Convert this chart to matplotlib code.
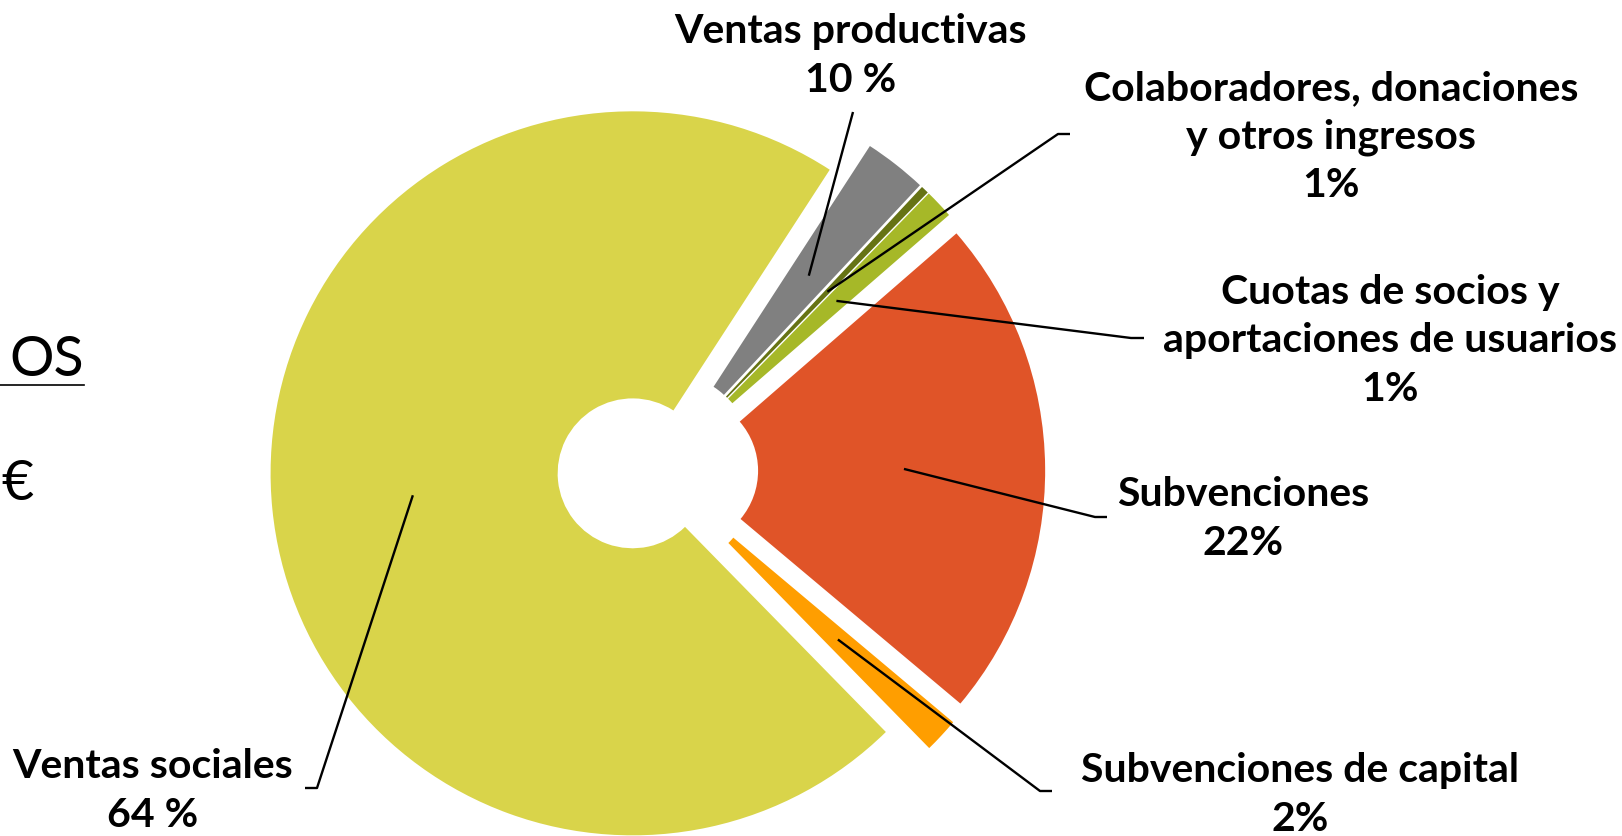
import numpy as np
import matplotlib
matplotlib.use('Agg')
import matplotlib.pyplot as plt
from matplotlib.lines import Line2D

plt.rcParams['font.family'] = ['Lato', 'DejaVu Sans']

# datos del grafico (tamano dibujado de cada porcion, y el porcentaje rotulado)
categories = ['Ventas sociales', 'Ventas productivas',
              'Colaboradores, donaciones\ny otros ingresos',
              'Cuotas de socios y\naportaciones de usuarios',
              'Subvenciones', 'Subvenciones de capital']
shares = [71.5, 2.8, 0.35, 1.3, 22.5, 1.55]
pct_labels = ['64 %', '10 %', '1%', '1%', '22%', '2%']

colors = ['#D9D44A', '#808080', '#667314', '#A6B828', '#E05428', '#FF9E00']
explode = [0.065, 0.075, 0.075, 0.075, 0.075, 0.075]

# posiciones en pixeles de la imagen (centro de la etiqueta, codo, fin de la linea)
label_px = [(153, 791), (851, 56), (1331, 137), (1390, 341), (1243, 519), (1300, 795)]
elbow_px = [(317, 789), (853, 113), (1058, 135), (1131, 339), (1095, 518), (1040, 792)]
end_px = [(305, 789), None, (1070, 135), (1144, 339), (1107, 518), (1052, 792)]

W, H = 1622, 837
CX, CY, RPX = 656, 472, 362


def px(x, y):
    return (x - CX) / RPX, (CY - y) / RPX


fig = plt.figure(figsize=(W / 100, H / 100), dpi=100)
ax = fig.add_axes([0, 0, 1, 1])
wedges, _ = ax.pie(shares, colors=colors, explode=explode, startangle=-45.6,
                   counterclock=False, radius=1,
                   wedgeprops=dict(width=0.793, linewidth=0))
ax.set_aspect('auto')
ax.set_xlim(px(0, 0)[0], px(W, 0)[0])
ax.set_ylim(px(0, H)[1], px(0, 0)[1])
ax.axis('off')

for i, w in enumerate(wedges):
    mid = np.deg2rad((w.theta1 + w.theta2) / 2)
    cx, cy = w.center
    start = (cx + 0.61 * np.cos(mid), cy + 0.61 * np.sin(mid))
    pts = [start, px(*elbow_px[i])]
    if end_px[i] is not None:
        pts.append(px(*end_px[i]))
    xs, ys = zip(*pts)
    ax.plot(xs, ys, color='black', lw=1.7, zorder=5, solid_capstyle='butt')
    lx, ly = px(*label_px[i])
    ax.text(lx, ly, categories[i] + '\n' + pct_labels[i], ha='center', va='center',
            ma='center', fontsize=29.5, fontweight='bold', linespacing=1.38)

# texto recortado del titulo a la izquierda
fig.text(84 / W, 1 - 376 / H, 'OS', ha='right', va='baseline', fontsize=40, color='black')
fig.add_artist(Line2D([0, 84 / W], [1 - 386 / H] * 2, transform=fig.transFigure,
                      color='black', lw=1.2))
fig.text(34 / W, 1 - 500 / H, '€', ha='right', va='baseline', fontsize=40, color='black')

fig.savefig('out.png', dpi=100, facecolor='white')
